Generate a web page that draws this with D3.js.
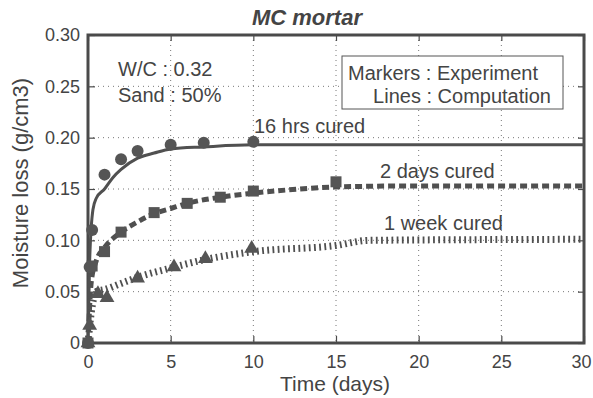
<!DOCTYPE html>
<html>
<head>
<meta charset="utf-8">
<script src="https://cdn.jsdelivr.net/npm/d3@7"></script>
<style>
body { margin: 0; background: #fff; }
text { font-family: "Liberation Sans", Arial, sans-serif; fill: #444; }
</style>
</head>
<body>
<svg width="593" height="398"></svg>
<script>
// tick labels
var xTicks = [0, 5, 10, 15, 20, 25, 30];
var yTicks = [0, 0.05, 0.10, 0.15, 0.20, 0.25, 0.30];

// experiment (markers)
var hrs16Days = [0, 0.1, 0.25, 1, 2, 3, 5, 7, 10];
var hrs16Loss = [0, 0.074, 0.110, 0.164, 0.179, 0.187, 0.193, 0.195, 0.196];
var days2Days = [0, 0.25, 1, 2, 4, 6, 8, 10, 15];
var days2Loss = [0, 0.075, 0.089, 0.108, 0.127, 0.136, 0.142, 0.148, 0.157];
var week1Days = [0, 0.1, 0.6, 1.15, 3, 5.2, 7.1, 9.9];
var week1Loss = [0, 0.017, 0.048, 0.044, 0.063, 0.074, 0.082, 0.092];

// computation (lines)
var hrs16LineDays = [0, 0.1, 0.3, 0.5, 1, 1.5, 2, 3, 4, 5, 7, 10, 30];
var hrs16LineLoss = [0, 0.08, 0.13, 0.141, 0.150, 0.161, 0.169, 0.180, 0.185, 0.189, 0.191, 0.193, 0.193];
var days2LineDays = [0, 0.2, 0.5, 1, 2, 3, 4, 5, 6, 8, 10, 12, 15, 20, 30];
var days2LineLoss = [0, 0.06, 0.08, 0.093, 0.108, 0.118, 0.126, 0.131, 0.136, 0.142, 0.146, 0.149, 0.152, 0.153, 0.153];
var week1LineDays = [0, 0.2, 0.5, 1, 2, 3, 5, 7, 10, 15, 17, 30];
var week1LineLoss = [0, 0.03, 0.05, 0.052, 0.058, 0.064, 0.073, 0.081, 0.089, 0.095, 0.100, 0.101];

var svg = d3.select("svg");
var pLeft = 88, pRight = 584, pTop = 35, pBottom = 343;
var x = d3.scaleLinear().domain([0, 30]).range([pLeft, pRight]);
var y = d3.scaleLinear().domain([0, 0.30]).range([pBottom, pTop]);
var ink = "#4a4a4a";

// dotted grid
svg.append("g").selectAll("line").data(xTicks.slice(1, -1)).enter().append("line")
    .attr("x1", d => x(d)).attr("x2", d => x(d)).attr("y1", pTop).attr("y2", pBottom)
    .style("stroke", "#777").style("stroke-width", 1).style("stroke-dasharray", "1,4");
svg.append("g").selectAll("line").data(yTicks.slice(1, -1)).enter().append("line")
    .attr("y1", d => y(d)).attr("y2", d => y(d)).attr("x1", pLeft).attr("x2", pRight)
    .style("stroke", "#777").style("stroke-width", 1).style("stroke-dasharray", "1,4");

// axes with inward ticks
var xAxis = svg.append("g").attr("transform", "translate(0," + pBottom + ")")
    .call(d3.axisBottom(x).tickValues(xTicks).tickSize(-7).tickPadding(12).tickFormat(d3.format("d")));
xAxis.selectAll(".tick text").filter(d => d === 30).attr("dx", "-3");
svg.append("g").attr("transform", "translate(" + pLeft + ",0)")
    .call(d3.axisLeft(y).tickValues(yTicks).tickSize(-7).tickPadding(8)
        .tickFormat(d => d === 0 ? "0" : d3.format(".2f")(d)));
svg.append("g").attr("transform", "translate(0," + pTop + ")")
    .call(d3.axisTop(x).tickValues(xTicks).tickSize(-6).tickFormat(""));
svg.append("g").attr("transform", "translate(" + pRight + ",0)")
    .call(d3.axisRight(y).tickValues(yTicks).tickSize(-6).tickFormat(""));
svg.selectAll(".domain").remove();
svg.selectAll(".tick line").style("stroke", ink).style("stroke-width", 1.2);
svg.selectAll(".tick text").style("font-size", "18px").style("fill", "#444")
    .style("font-family", "'Liberation Sans', Arial, sans-serif");

// frame
svg.append("rect").attr("x", pLeft).attr("y", pTop).attr("width", pRight - pLeft).attr("height", pBottom - pTop)
    .style("fill", "none").style("stroke", ink).style("stroke-width", 3);

// computation lines
var line = d3.line().x(d => x(d[0])).y(d => y(d[1])).curve(d3.curveMonotoneX);
function drawLine(ds, vs, width, dash) {
    svg.append("path").datum(d3.zip(ds, vs)).attr("d", line)
        .style("fill", "none").style("stroke", "#505050")
        .style("stroke-width", width).style("stroke-dasharray", dash);
}
drawLine(hrs16LineDays, hrs16LineLoss, 3, null);
drawLine(days2LineDays, days2LineLoss, 5, "7,4");
drawLine(week1LineDays, week1LineLoss, 7, "1.8,3.4");

// experiment markers
svg.append("g").selectAll("circle").data(d3.zip(hrs16Days, hrs16Loss)).enter().append("circle")
    .attr("cx", d => x(d[0])).attr("cy", d => y(d[1])).attr("r", 6).style("fill", "#555");
svg.append("g").selectAll("rect").data(d3.zip(days2Days, days2Loss)).enter().append("rect")
    .attr("x", d => x(d[0]) - 5.5).attr("y", d => y(d[1]) - 5.5).attr("width", 11).attr("height", 11)
    .style("fill", "#555");
var tri = d3.symbol().type(d3.symbolTriangle).size(95);
svg.append("g").selectAll("path").data(d3.zip(week1Days, week1Loss)).enter().append("path")
    .attr("transform", d => "translate(" + x(d[0]) + "," + y(d[1]) + ")")
    .attr("d", tri).style("fill", "#555");

// labels
svg.append("text").attr("x", 307).attr("y", 25).attr("text-anchor", "middle")
    .style("font-size", "22px").style("font-weight", "bold").style("font-style", "italic").text("MC mortar");
svg.append("text").attr("x", 335).attr("y", 391).attr("text-anchor", "middle")
    .style("font-size", "21px").text("Time (days)");
svg.append("text").attr("transform", "translate(28,183) rotate(-90)")
    .attr("text-anchor", "middle").style("font-size", "22px").text("Moisture loss (g/cm3)");

svg.append("text").attr("x", 118).attr("y", 76).style("font-size", "20px").text("W/C : 0.32");
svg.append("text").attr("x", 118).attr("y", 102).style("font-size", "20px").text("Sand : 50%");

svg.append("rect").attr("x", 342).attr("y", 56).attr("width", 221).attr("height", 53)
    .style("fill", "#fff").style("stroke", "#555").style("stroke-width", 1);
svg.append("text").attr("x", 348).attr("y", 80).style("font-size", "20px").text("Markers : Experiment");
svg.append("text").attr("x", 551).attr("y", 103).attr("text-anchor", "end").style("font-size", "20px").text("Lines : Computation");

svg.append("text").attr("x", 254).attr("y", 133).style("font-size", "20px").text("16 hrs cured");
svg.append("text").attr("x", 380).attr("y", 178).style("font-size", "20px").text("2 days cured");
svg.append("text").attr("x", 384).attr("y", 230).style("font-size", "20px").text("1 week cured");
</script>
</body>
</html>
